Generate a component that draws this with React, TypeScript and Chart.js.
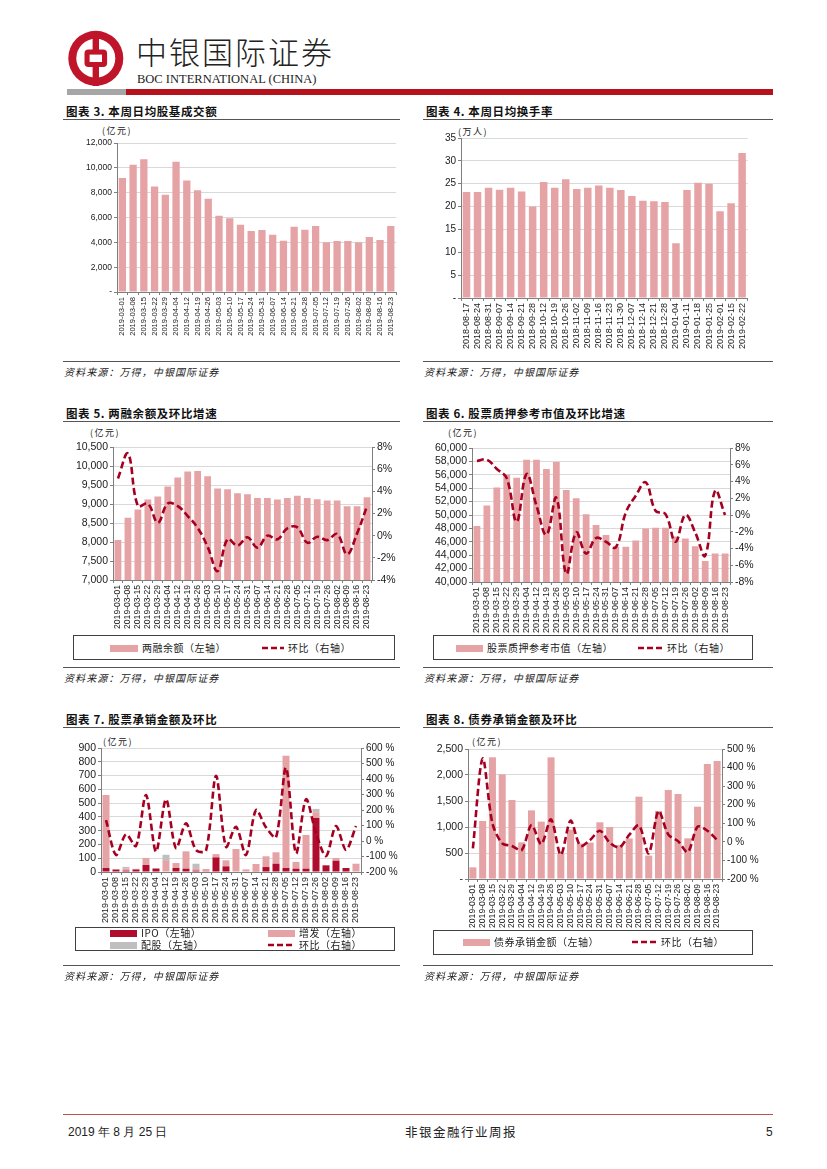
import React, { useEffect, useRef } from "react";
import { Chart, registerables } from "chart.js";
Chart.register(...registerables);

// ---------- data ----------
const weeks2019 = [
  "2019-03-01", "2019-03-08", "2019-03-15", "2019-03-22", "2019-03-29", "2019-04-04",
  "2019-04-12", "2019-04-19", "2019-04-26", "2019-05-03", "2019-05-10", "2019-05-17",
  "2019-05-24", "2019-05-31", "2019-06-07", "2019-06-14", "2019-06-21", "2019-06-28",
  "2019-07-05", "2019-07-12", "2019-07-19", "2019-07-26", "2019-08-02", "2019-08-09",
  "2019-08-16", "2019-08-23",
];
const turnoverWeeks = [
  "2018-08-17", "2018-08-24", "2018-08-31", "2018-09-07", "2018-09-14", "2018-09-21",
  "2018-09-28", "2018-10-12", "2018-10-19", "2018-10-26", "2018-11-02", "2018-11-09",
  "2018-11-16", "2018-11-23", "2018-11-30", "2018-12-07", "2018-12-14", "2018-12-21",
  "2018-12-28", "2019-01-04", "2019-01-11", "2019-01-18", "2019-01-25", "2019-02-01",
  "2019-02-15", "2019-02-22",
];
const stockTurnover = [
  9180, 10250, 10700, 8500, 7840, 10500, 8970, 8190, 7520, 6150, 5930, 5420, 4910,
  4990, 4620, 4130, 5260, 5020, 5320, 4000, 4110, 4110, 4000, 4430, 4190, 5320,
];
const turnoverRate = [
  23.2, 23.2, 24.1, 23.7, 24.1, 23.3, 20.0, 25.4, 24.1, 26.0, 23.85, 24.1, 24.6,
  24.1, 23.6, 22.3, 21.3, 21.15, 21.0, 12.0, 23.6, 25.2, 25.0, 19.0, 20.7, 31.7,
];
const marginBalance = [
  8050, 8636, 8855, 9118, 9196, 9459, 9695, 9853, 9870, 9730, 9406, 9389, 9284,
  9258, 9161, 9161, 9118, 9161, 9214, 9161, 9126, 9091, 9091, 8943, 8943, 9179,
];
const marginChange = [
  5.16, 7.4, 2.67, 2.9, 1.17, 2.9, 2.67, 1.77, 0.7, -1.0, -3.2, -0.33, -0.9,
  -0.15, -1.08, 0.0, -0.33, 0.66, 0.75, -0.63, -0.1, -0.4, 0.15, -1.68, 0.2, 2.67,
];
const pledgeValue = [
  48350, 51400, 54100, 56050, 55550, 58250, 58250, 56850, 57900, 53750, 52500, 50100, 48500,
  47000, 45250, 45250, 46200, 48000, 48100, 48100, 46800, 46500, 45350, 43150, 44250, 44250,
];
const pledgeChange = [
  6.45, 6.6, 5.5, 4.4, -0.8, 4.9, 1.1, -2.35, 2.05, -7.0, -2.1, -4.6, -2.75,
  -3.2, -3.85, 0.3, 2.3, 3.9, 0.5, 0.1, -3.2, 0.0, -2.1, -4.85, 2.9, 0.0,
];
const ipoAmount = [
  29, 17, 10, 18, 51, 25, 0, 29, 24, 10, 5, 106, 41,
  0, 0, 3, 36, 60, 29, 24, 24, 392, 48, 82, 29, 0,
];
const seoAmount = [
  530, 5, 15, 5, 51, 2, 80, 36, 126, 18, 17, 24, 44,
  167, 19, 55, 78, 83, 815, 49, 245, 42, 3, 20, 0, 60,
];
const rightsAmount = [
  0, 0, 12, 0, 0, 0, 45, 0, 0, 32, 0, 0, 0,
  0, 0, 0, 0, 0, 0, 0, 0, 24, 0, 0, 0, 0,
];
const equityChange = [
  135, -90, 43, -32, 297, -69, 269, -47, 114, -58, -62, 421, -37,
  92, -90, 200, 88, 24, 473, -80, 269, 50, -97, 97, -58, 97,
];
const bondAmount = [
  224, 1115, 2340, 2013, 1519, 705, 1320, 1103, 2340, 480, 950, 680, 700,
  1090, 1000, 650, 780, 1583, 450, 1308, 1712, 1635, 782, 1391, 2212, 2269,
];
const bondChange = [
  -35, 449, 100, -8, -22, -44, 91, -12, 121, -71, 114, -22, 10,
  60, -4, -30, 37, 89, -62, 166, 40, 4, -55, 82, 60, 10,
];

// ---------- styles ----------
const PINK = "#E6A3A5";
const DARK_RED = "#B00C2E";
const LINE_RED = "#A50021";
const GRAYBAR = "#BFBFBF";
const GRID = "#D9D9D9";
const AXIS = "#7F7F7F";
const TXT = "#1a1a1a";
const SANS = "'Liberation Sans', Arial, sans-serif";
const CJK = "'Noto Sans CJK SC', 'Noto Sans', sans-serif";

const fmtThousands = (v: any) => (Number(v) === 0 ? "-" : Number(v).toLocaleString("en-US"));

type AxisP = {
  yw: number; rw?: number; xh: number; padTop: number; padRight?: number;
  yMin: number; yMax: number; yStep: number; yFmt: (v: any) => string; ySize: number;
  r?: { min: number; max: number; step: number; fmt: (v: any) => string; size: number };
  xSize: number; stacked?: boolean;
};

function makeOptions(p: AxisP): any {
  const scales: any = {
    x: {
      stacked: !!p.stacked,
      offset: true,
      grid: { display: true, drawOnChartArea: false, drawTicks: true, tickLength: 3, tickColor: AXIS, offset: true },
      border: { display: true, color: AXIS, width: 1 },
      ticks: {
        autoSkip: false, minRotation: 90, maxRotation: 90, padding: 2, color: TXT,
        font: { family: SANS, size: p.xSize },
      },
      afterFit: (s: any) => { s.height = p.xh; },
    },
    y: {
      position: "left",
      stacked: !!p.stacked,
      min: p.yMin, max: p.yMax,
      grid: { color: GRID, lineWidth: 1, tickColor: AXIS, tickLength: 3, drawTicks: true },
      border: { display: true, color: AXIS, width: 1 },
      ticks: {
        autoSkip: false, stepSize: p.yStep, padding: 2, color: TXT, font: { family: SANS, size: p.ySize },
        callback: p.yFmt,
      },
      afterFit: (s: any) => { s.width = p.yw; },
    },
  };
  if (p.r) {
    const r = p.r;
    scales.y1 = {
      position: "right",
      min: r.min, max: r.max,
      grid: { drawOnChartArea: false, tickColor: AXIS, tickLength: 3, drawTicks: true },
      border: { display: true, color: AXIS, width: 1 },
      ticks: { autoSkip: false, stepSize: r.step, padding: 2, color: TXT, font: { family: SANS, size: r.size }, callback: r.fmt },
      afterFit: (s: any) => { s.width = p.rw; },
    };
  }
  return {
    responsive: true,
    maintainAspectRatio: false,
    animation: false,
    layout: { padding: { top: p.padTop, right: p.padRight ?? 0, left: 0, bottom: 0 } },
    plugins: { legend: { display: false }, tooltip: { enabled: false } },
    scales,
  };
}

const barDs = (data: number[], color: string, extra: any = {}) => ({
  type: "bar", data, backgroundColor: color, categoryPercentage: 1, barPercentage: 0.68,
  order: 1, ...extra,
});
const lineDs = (data: number[], tension: number) => ({
  type: "line", data, yAxisID: "y1", borderColor: LINE_RED, borderWidth: 2.6,
  borderDash: [7, 3.5], pointRadius: 0, tension, fill: false, order: 0,
});

// ---------- components ----------
function ChartBox({ box, config }: { box: number[]; config: any }) {
  const ref = useRef<HTMLCanvasElement>(null);
  useEffect(() => {
    const c = new Chart(ref.current as HTMLCanvasElement, config);
    return () => c.destroy();
  }, []);
  return (
    <div style={{ position: "absolute", left: box[0], top: box[1], width: box[2], height: box[3] }}>
      <canvas ref={ref} />
    </div>
  );
}

const abs = (x: number, y: number, extra: any = {}): any => ({ position: "absolute", left: x, top: y, ...extra });

function Title({ x, y, w, text }: { x: number; y: number; w: number; text: string }) {
  return (
    <>
      <div style={abs(x + 3, y - 8, { font: `700 11.5px ${CJK}`, letterSpacing: "0.6px", color: "#111", whiteSpace: "nowrap", lineHeight: "16px" })}>{text}</div>
      <div style={abs(x, y + 8, { width: w, height: 0, borderTop: "1.5px solid #555" })} />
    </>
  );
}

function Source({ x, y, w }: { x: number; y: number; w: number }) {
  return (
    <>
      <div style={abs(x, y, { width: w, height: 0, borderTop: "1.5px solid #555" })} />
      <div style={abs(x + 1, y + 4, { font: `italic 10px ${CJK}`, letterSpacing: "1.1px", color: "#222", whiteSpace: "nowrap", lineHeight: "14px" })}>资料来源：万得，中银国际证券</div>
    </>
  );
}

function Unit({ x, y, text }: { x: number; y: number; text: string }) {
  return <div style={abs(x, y - 7, { font: `9px ${CJK}`, letterSpacing: "1.5px", color: "#222", whiteSpace: "nowrap", lineHeight: "14px" })}>{text}</div>;
}

type LegItem = { x: number; y: number; kind: "rect" | "dash"; color: string; label: string; w: number };
function Legend({ box, items }: { box: number[]; items: LegItem[] }) {
  return (
    <>
      <div style={abs(box[0], box[1], { width: box[2], height: box[3], border: "1px solid #404040", boxSizing: "border-box" })} />
      {items.map((it, i) => (
        <React.Fragment key={i}>
          {it.kind === "rect" ? (
            <div style={abs(it.x, it.y - 3.5, { width: it.w, height: 7, background: it.color })} />
          ) : (
            <svg style={abs(it.x, it.y - 3, { overflow: "visible" })} width={it.w} height={6}>
              <line x1={0} y1={3} x2={it.w} y2={3} stroke={it.color} strokeWidth={2.6} strokeDasharray="6 3" />
            </svg>
          )}
          <div style={abs(it.x + it.w + 4, it.y - 7, { font: `10px ${CJK}`, letterSpacing: "0.5px", color: "#222", whiteSpace: "nowrap", lineHeight: "14px" })}>{it.label}</div>
        </React.Fragment>
      ))}
    </>
  );
}

function Logo() {
  return (
    <svg style={abs(66, 30)} width={60} height={58} viewBox="66 30 60 58">
      <circle cx={95.8} cy={58.3} r={27.5} fill="#C0142B" />
      <circle cx={95.8} cy={58.3} r={19.5} fill="#fff" />
      <rect x={92.6} y={31} width={6.4} height={55} fill="#C0142B" />
      <rect x={84.5} y={49.5} width={22.6} height={17.6} rx={4} fill="#C0142B" />
      <rect x={89.6} y={54.6} width={12.4} height={7.4} fill="#fff" />
    </svg>
  );
}

// ---------- configs ----------
const cfg3 = {
  type: "bar",
  data: { labels: weeks2019, datasets: [barDs(stockTurnover, PINK)] },
  options: makeOptions({ yw: 57, xh: 51, padTop: 10, padRight: 5, yMin: 0, yMax: 12000, yStep: 2000, yFmt: fmtThousands, ySize: 8.5, xSize: 7.6 }),
};
const cfg4 = {
  type: "bar",
  data: { labels: turnoverWeeks, datasets: [barDs(turnoverRate, PINK)] },
  options: makeOptions({ yw: 46, xh: 52, padTop: 10, padRight: 5, yMin: 0, yMax: 35, yStep: 5, yFmt: (v: any) => (Number(v) === 0 ? "-" : String(v)), ySize: 10, xSize: 9 }),
};
const cfg5 = {
  type: "bar",
  data: { labels: weeks2019, datasets: [barDs(marginBalance, PINK), lineDs(marginChange, 0.4)] },
  options: makeOptions({
    yw: 51, rw: 28, xh: 54, padTop: 10, yMin: 7000, yMax: 10500, yStep: 500,
    yFmt: (v: any) => Number(v).toLocaleString("en-US"), ySize: 10.5, xSize: 8.6,
    r: { min: -4, max: 8, step: 2, fmt: (v: any) => `${v}%`, size: 10.5 },
  }),
};
const cfg6 = {
  type: "bar",
  data: { labels: weeks2019, datasets: [barDs(pledgeValue, PINK), lineDs(pledgeChange, 0.4)] },
  options: makeOptions({
    yw: 52, rw: 30, xh: 52, padTop: 10, yMin: 40000, yMax: 60000, yStep: 2000,
    yFmt: (v: any) => Number(v).toLocaleString("en-US"), ySize: 10.5, xSize: 9,
    r: { min: -8, max: 8, step: 2, fmt: (v: any) => `${v}%`, size: 10.5 },
  }),
};
const cfg7 = {
  type: "bar",
  data: {
    labels: weeks2019,
    datasets: [
      barDs(ipoAmount, DARK_RED, { stack: "s", barPercentage: 0.7 }),
      barDs(seoAmount, PINK, { stack: "s", barPercentage: 0.7 }),
      barDs(rightsAmount, GRAYBAR, { stack: "s", barPercentage: 0.7 }),
      lineDs(equityChange, 0.3),
    ],
  },
  options: makeOptions({
    yw: 39, rw: 39, xh: 54, padTop: 10, yMin: 0, yMax: 900, yStep: 100, stacked: true,
    yFmt: (v: any) => String(v), ySize: 10.5, xSize: 9,
    r: { min: -200, max: 600, step: 100, fmt: (v: any) => `${v} %`, size: 10 },
  }),
};
const cfg8 = {
  type: "bar",
  data: { labels: weeks2019, datasets: [barDs(bondAmount, PINK, { barPercentage: 0.72 }), lineDs(bondChange, 0.3)] },
  options: makeOptions({
    yw: 48, rw: 38, xh: 51, padTop: 10, yMin: 0, yMax: 2500, yStep: 500,
    yFmt: fmtThousands, ySize: 10.5, xSize: 8.6,
    r: { min: -200, max: 500, step: 100, fmt: (v: any) => `${v} %`, size: 10 },
  }),
};

export default function App() {
  return (
    <div style={{ position: "absolute", left: 0, top: 0, width: 827, height: 1169, background: "#fff", overflow: "hidden" }}>
      {/* header */}
      <Logo />
      <div style={abs(136, 31, { font: `300 31px ${CJK}`, letterSpacing: "2px", color: "#222", lineHeight: "40px", whiteSpace: "nowrap" })}>中银国际证券</div>
      <div style={abs(137, 72, { font: `12.5px 'Liberation Serif', 'Times New Roman', serif`, color: "#222", lineHeight: "15px", whiteSpace: "nowrap" })}>BOC INTERNATIONAL (CHINA)</div>
      <div style={abs(67, 89, { width: 59, height: 6, background: "#A6A6A6" })} />
      <div style={abs(126, 89, { width: 647, height: 6, background: "#B5121B" })} />

      {/* chart 3 */}
      <Title x={63} y={111} w={337} text="图表 3. 本周日均股基成交额" />
      <Unit x={102} y={131} text="(亿元)" />
      <ChartBox box={[60, 133, 342, 210]} config={cfg3} />
      <Source x={63} y={361} w={337} />

      {/* chart 4 */}
      <Title x={423} y={111} w={350} text="图表 4. 本周日均换手率" />
      <Unit x={458} y={132} text="(万人)" />
      <ChartBox box={[415, 128, 340, 222]} config={cfg4} />
      <Source x={423} y={361} w={350} />

      {/* chart 5 */}
      <Title x={63} y={413} w={337} text="图表 5. 两融余额及环比增速" />
      <Unit x={90} y={433} text="(亿元)" />
      <ChartBox box={[62, 437, 338, 197]} config={cfg5} />
      <Legend box={[73, 635, 322, 25]} items={[
        { x: 110, y: 648, kind: "rect", color: PINK, label: "两融余额（左轴）", w: 28 },
        { x: 262, y: 648, kind: "dash", color: LINE_RED, label: "环比（右轴）", w: 22 },
      ]} />
      <Source x={63} y={667} w={337} />

      {/* chart 6 */}
      <Title x={423} y={413} w={350} text="图表 6. 股票质押参考市值及环比增速" />
      <Unit x={448} y={433} text="(亿元)" />
      <ChartBox box={[420, 438, 340, 196]} config={cfg6} />
      <Legend box={[433, 635, 320, 25]} items={[
        { x: 456, y: 648, kind: "rect", color: PINK, label: "股票质押参考市值（左轴）", w: 27 },
        { x: 638, y: 648, kind: "dash", color: LINE_RED, label: "环比（右轴）", w: 25 },
      ]} />
      <Source x={423} y={667} w={350} />

      {/* chart 7 */}
      <Title x={63} y={719} w={337} text="图表 7. 股票承销金额及环比" />
      <Unit x={103} y={742} text="(亿元)" />
      <ChartBox box={[62, 738, 338, 188]} config={cfg7} />
      <Legend box={[75, 927, 320, 24]} items={[
        { x: 110, y: 933, kind: "rect", color: DARK_RED, label: "IPO（左轴）", w: 27 },
        { x: 268, y: 933, kind: "rect", color: PINK, label: "增发（左轴）", w: 27 },
        { x: 110, y: 945, kind: "rect", color: GRAYBAR, label: "配股（左轴）", w: 27 },
        { x: 268, y: 945, kind: "dash", color: LINE_RED, label: "环比（右轴）", w: 27 },
      ]} />
      <Source x={63} y={965} w={337} />

      {/* chart 8 */}
      <Title x={423} y={719} w={350} text="图表 8. 债券承销金额及环比" />
      <Unit x={472} y={742} text="(亿元)" />
      <ChartBox box={[420, 739, 340, 191]} config={cfg8} />
      <Legend box={[433, 930, 320, 25]} items={[
        { x: 463, y: 942, kind: "rect", color: PINK, label: "债券承销金额（左轴）", w: 27 },
        { x: 632, y: 942, kind: "dash", color: LINE_RED, label: "环比（右轴）", w: 25 },
      ]} />
      <Source x={423} y={965} w={350} />

      {/* footer */}
      <div style={abs(63, 1114, { width: 710, height: 0, borderTop: "1px solid #C0504D" })} />
      <div style={abs(68, 1125, { font: `12px ${SANS}`, color: "#222", lineHeight: "14px", whiteSpace: "nowrap" })}>2019 年 8 月 25 日</div>
      <div style={abs(405, 1125, { font: `12.5px ${CJK}`, letterSpacing: "1.5px", color: "#222", lineHeight: "14px", whiteSpace: "nowrap" })}>非银金融行业周报</div>
      <div style={abs(766, 1125, { font: `12px ${SANS}`, color: "#222", lineHeight: "14px" })}>5</div>
    </div>
  );
}
